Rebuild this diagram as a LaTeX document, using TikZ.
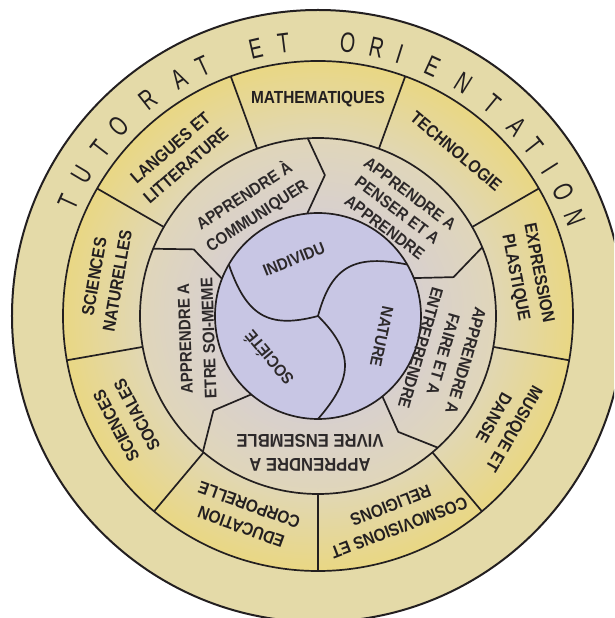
\documentclass[tikz,border=0pt]{standalone}
\usepackage{fontspec}
\setmainfont{Liberation Sans}
\newfontfamily\subjfont[FakeStretch=0.88]{Liberation Sans}
\newfontfamily\midfont[FakeStretch=0.9]{Liberation Sans}
\newfontfamily\ringfont[FakeStretch=0.70]{Liberation Sans}
\definecolor{lav}{RGB}{200,198,228}
\definecolor{midin}{RGB}{216,208,206}
\definecolor{midout}{RGB}{224,214,186}
\definecolor{subin}{RGB}{225,215,180}
\definecolor{subout}{RGB}{233,215,132}
\definecolor{band}{RGB}{228,218,168}
\definecolor{ink}{RGB}{35,31,32}
\definecolor{ink2}{RGB}{45,41,42}
\tikzset{
  ln/.style={draw=ink, line width=1.7pt, line join=round},
  subj/.style={font=\subjfont\bfseries\fontsize{17.5}{23.5}\selectfont, text=ink, align=center, inner sep=0pt},
  midl/.style={font=\midfont\bfseries\fontsize{16.8}{23.5}\selectfont, text=ink2, align=center, inner sep=0pt},
  midtight/.style={midl, font=\midfont\bfseries\fontsize{16.8}{21}\selectfont},
  midwide/.style={midl, font=\midfont\bfseries\fontsize{18.5}{24}\selectfont},
  innl/.style={font=\midfont\bfseries\fontsize{16.5}{19}\selectfont, text=ink2, align=center, inner sep=0pt},
  ringl/.style={font=\ringfont\fontsize{28}{28}\selectfont, text=ink, anchor=base, inner sep=0pt},
}
\begin{document}
\begin{tikzpicture}[x=1pt,y=1pt]
\useasboundingbox (-318,-302) rectangle (296,316);
\fill[white] (-318,-302) rectangle (296,316);
\clip (-318,-302) rectangle (296,316);
% backgrounds
\fill[band] (0,0) circle (306);
\foreach \k in {0,...,38}{
  \pgfmathsetmacro\rr{255-2*\k}
  \pgfmathtruncatemacro\pp{100*(\rr-178)/77}
  \fill[subout!\pp!subin] (0,0) circle (\rr);
}
\foreach \k in {0,...,37}{
  \pgfmathsetmacro\rr{178-2*\k}
  \pgfmathtruncatemacro\pp{100*(\rr-103)/75}
  \fill[midout!\pp!midin] (0,0) circle (\rr);
}
\fill[lav] (0,0) circle (103);
% rings
\draw[ln, line width=2pt] (0,0) circle (306);
\draw[ln] (0,0) circle (255);
\draw[ln] (0,0) circle (178);
\draw[ln] (0,0) circle (103);
% subject dividers
\foreach \a in {110,70,30,-10,-50,-90,-130,-170,150}
  \draw[ln] (\a:178) -- (\a:255);
% middle dividers
\draw[ln] (93.3:178) -- (87.2:141) -- (96:103);
\draw[ln] (22.7:178) -- (16:141) -- (21.6:103);
\draw[ln] (-47.7:178) -- (-55.3:141) -- (-51.3:103);
\draw[ln] (-130.3:178) -- (-137.9:141) -- (-130.4:103);
\draw[ln] (157.8:178) -- (151.8:141) -- (158.8:103);
% inner curves
\foreach \rot in {0,120,240}
  \draw[ln, rotate=\rot] (0,0) .. controls (37.3,-37.3) and (34.6,-63.1) .. (0,-103);
% subject labels
\node[subj] (math) at (90:216.5) {MATHEMATIQUES};
\node[subj, rotate=-40] (tech) at (50:215) {TECHNOLOGIE};
\node[subj, rotate=-79] (expr) at (11:212.5) {EXPRESSION\\PLASTIQUE};
\node[subj, rotate=-120] (musi) at (-30:215) {MUSIQUE ET\\DANSE};
\node[subj, rotate=-159] (cosm) at (-69:215) {COSMOVISIONS ET\\RELIGIONS};
\node[subj, rotate=160] (educ) at (-110:213) {EDUCATION\\CORPORELLE};
\node[subj, rotate=118] (soci) at (-151.4:218) {SCIENCES\\SOCIALES};
\node[subj, rotate=80] (natu) at (170:215.5) {SCIENCES\\NATURELLES};
\node[subj, rotate=41] (lang) at (131.3:212) {LANGUES ET\\LITTERATURE};
% middle labels
\node[midl, rotate=33] (comm) at (121.4:129.5) {APPRENDRE À\\COMMUNIQUER};
\node[midtight, rotate=-37] (pens) at (53:132) {APPRENDRE A\\PENSER ET A\\APPRENDRE};
\node[midl, rotate=-106] (fair) at (-17:131) {APPRENDRE A\\FAIRE ET A\\ENTREPRENDRE};
\node[midwide, rotate=180] (vivr) at (-8,-137) {APPRENDRE A\\VIVRE ENSEMBLE};
\node[midl, rotate=92] (etre) at (190.5:123) {APPRENDRE A\\ETRE SOI-MEME};
% inner labels
\node[innl, rotate=22] (indi) at (113:61.6) {INDIVIDU};
\node[innl, rotate=-102] (natr) at (-18:67) {NATURE};
\node[innl, rotate=130] (socie) at (-139.6:65.3) {SOCIÉTÉ};
% ring title
\foreach \a/\l [count=\i] in {155.5/T,149.1/U,142.4/T,136.4/O,128.1/R,120.3/A,114.8/T,103.1/E,97.2/T,83.8/O,77.7/R,72.7/I,65.4/E,58.1/N,50.5/T,43.6/A,38.2/T,32.4/I,26.8/O,20.9/N}
  \node[ringl, rotate=\a-90] (t\i) at (\a:265) {\l};
\end{tikzpicture}
\end{document}
